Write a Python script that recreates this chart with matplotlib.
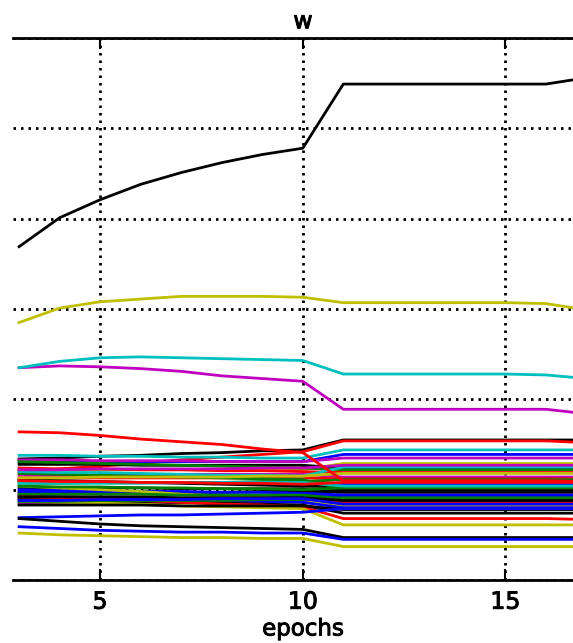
import matplotlib

matplotlib.use("Agg")
import matplotlib.patheffects as pe
import matplotlib.pyplot as plt

# epochs shown in the crop
epochs = list(range(3, 18))

# lines that sit above the main bundle (value per epoch 3..17)
w_black_top = [2.69, 3.01, 3.21, 3.38, 3.51, 3.62, 3.71, 3.78, 4.49, 4.49, 4.49, 4.49, 4.49, 4.49, 4.56]
w_yellow_top = [1.85, 2.01, 2.08, 2.11, 2.14, 2.14, 2.14, 2.13, 2.07, 2.07, 2.07, 2.07, 2.07, 2.06, 1.99]
w_cyan_top = [1.35, 1.42, 1.46, 1.47, 1.46, 1.45, 1.44, 1.43, 1.28, 1.28, 1.28, 1.28, 1.28, 1.27, 1.23]
w_magenta_top = [1.35, 1.37, 1.36, 1.34, 1.31, 1.26, 1.23, 1.20, 0.89, 0.89, 0.89, 0.89, 0.89, 0.89, 0.84]
w_red_top = [0.64, 0.63, 0.60, 0.56, 0.53, 0.50, 0.45, 0.41, 0.10, 0.10, 0.10, 0.10, 0.10, 0.10, 0.09]

# the dense bundle around zero
bundle_colors = ["k", "r", "c", "b", "m", "y", "k", "g", "r", "m", "r", "b", "k", "g", "k", "k", "b",
                 "b", "m", "r", "y", "b", "k", "r", "y", "g", "c", "g", "c", "g", "k", "m", "y",
                 "g", "r", "k", "b"]
bundle_values = [
    [0.34, 0.35, 0.37, 0.38, 0.40, 0.41, 0.43, 0.44, 0.55, 0.55, 0.55, 0.55, 0.55, 0.55, 0.55],
    [0.20, 0.23, 0.26, 0.29, 0.33, 0.36, 0.39, 0.42, 0.54, 0.54, 0.54, 0.54, 0.54, 0.54, 0.52],
    [0.38, 0.38, 0.37, 0.37, 0.36, 0.36, 0.35, 0.35, 0.44, 0.44, 0.44, 0.44, 0.44, 0.44, 0.44],
    [0.31, 0.31, 0.31, 0.31, 0.31, 0.31, 0.31, 0.31, 0.39, 0.39, 0.39, 0.39, 0.39, 0.39, 0.39],
    [0.33, 0.33, 0.32, 0.32, 0.32, 0.31, 0.31, 0.31, 0.35, 0.35, 0.35, 0.35, 0.35, 0.35, 0.35],
    [0.22, 0.22, 0.22, 0.22, 0.22, 0.22, 0.22, 0.22, 0.29, 0.29, 0.29, 0.29, 0.29, 0.29, 0.29],
    [0.28, 0.28, 0.28, 0.27, 0.27, 0.27, 0.27, 0.27, 0.24, 0.24, 0.24, 0.24, 0.24, 0.24, 0.24],
    [0.31, 0.30, 0.29, 0.28, 0.27, 0.26, 0.25, 0.24, 0.22, 0.22, 0.22, 0.22, 0.22, 0.22, 0.22],
    [0.24, 0.23, 0.23, 0.22, 0.22, 0.21, 0.21, 0.20, 0.19, 0.19, 0.19, 0.19, 0.19, 0.19, 0.19],
    [0.16, 0.16, 0.16, 0.16, 0.17, 0.17, 0.17, 0.17, 0.14, 0.14, 0.14, 0.14, 0.14, 0.14, 0.14],
    [0.13, 0.13, 0.13, 0.13, 0.13, 0.13, 0.13, 0.13, 0.12, 0.12, 0.12, 0.12, 0.12, 0.12, 0.12],
    [0.09, 0.09, 0.08, 0.08, 0.08, 0.07, 0.07, 0.07, 0.06, 0.06, 0.06, 0.06, 0.06, 0.06, 0.06],
    [0.11, 0.10, 0.09, 0.08, 0.07, 0.06, 0.05, 0.04, 0.03, 0.03, 0.03, 0.03, 0.03, 0.03, 0.03],
    [0.18, 0.17, 0.16, 0.15, 0.14, 0.13, 0.12, 0.11, 0.01, 0.01, 0.01, 0.01, 0.01, 0.01, 0.01],
    [0.02, 0.02, 0.02, 0.02, 0.01, 0.01, 0.01, 0.01, -0.01, -0.01, -0.01, -0.01, -0.01, -0.01, -0.01],
    [-0.04, -0.04, -0.03, -0.03, -0.03, -0.03, -0.02, -0.02, -0.03, -0.03, -0.03, -0.03, -0.03, -0.03, -0.03],
    [0.00, -0.01, -0.01, -0.02, -0.02, -0.03, -0.03, -0.04, -0.06, -0.06, -0.06, -0.06, -0.06, -0.06, -0.06],
    [-0.02, -0.03, -0.03, -0.04, -0.05, -0.06, -0.06, -0.07, -0.08, -0.08, -0.08, -0.08, -0.08, -0.08, -0.08],
    [-0.16, -0.16, -0.15, -0.15, -0.14, -0.14, -0.13, -0.13, -0.11, -0.11, -0.11, -0.11, -0.11, -0.11, -0.11],
    [-0.09, -0.09, -0.10, -0.10, -0.10, -0.11, -0.11, -0.11, -0.14, -0.14, -0.14, -0.14, -0.14, -0.14, -0.14],
    [0.04, 0.02, 0.00, -0.02, -0.05, -0.07, -0.09, -0.11, -0.18, -0.18, -0.18, -0.18, -0.18, -0.18, -0.18],
    [-0.07, -0.08, -0.09, -0.10, -0.11, -0.12, -0.13, -0.14, -0.20, -0.20, -0.20, -0.20, -0.20, -0.20, -0.20],
    [-0.11, -0.12, -0.13, -0.14, -0.14, -0.15, -0.16, -0.17, -0.26, -0.26, -0.26, -0.26, -0.26, -0.26, -0.26],
    [-0.07, -0.09, -0.10, -0.12, -0.14, -0.16, -0.17, -0.19, -0.32, -0.32, -0.32, -0.32, -0.32, -0.32, -0.33],
    [-0.13, -0.14, -0.15, -0.16, -0.18, -0.19, -0.20, -0.21, -0.39, -0.39, -0.39, -0.39, -0.39, -0.39, -0.39],
    [0.07, 0.07, 0.08, 0.08, 0.08, 0.08, 0.09, 0.09, 0.11, 0.11, 0.11, 0.11, 0.11, 0.11, 0.11],
    [0.20, 0.19, 0.19, 0.18, 0.17, 0.16, 0.16, 0.15, 0.25, 0.25, 0.25, 0.25, 0.25, 0.25, 0.25],
    [0.04, 0.03, 0.03, 0.02, 0.02, 0.01, 0.01, 0.00, 0.02, 0.02, 0.02, 0.02, 0.02, 0.02, 0.02],
    [0.07, 0.07, 0.07, 0.07, 0.08, 0.08, 0.08, 0.08, 0.04, 0.04, 0.04, 0.04, 0.04, 0.04, 0.04],
    [-0.13, -0.13, -0.12, -0.12, -0.12, -0.12, -0.11, -0.11, -0.09, -0.09, -0.09, -0.09, -0.09, -0.09, -0.09],
    [-0.17, -0.17, -0.17, -0.17, -0.18, -0.18, -0.18, -0.18, -0.22, -0.22, -0.22, -0.22, -0.22, -0.22, -0.22],
    [0.22, 0.22, 0.23, 0.23, 0.23, 0.23, 0.24, 0.24, 0.27, 0.27, 0.27, 0.27, 0.27, 0.27, 0.27],
    [0.13, 0.13, 0.14, 0.14, 0.14, 0.14, 0.15, 0.15, 0.18, 0.18, 0.18, 0.18, 0.18, 0.18, 0.18],
    [-0.05, -0.05, -0.05, -0.05, -0.06, -0.06, -0.06, -0.06, -0.10, -0.10, -0.10, -0.10, -0.10, -0.10, -0.10],
    [0.10, 0.09, 0.09, 0.08, 0.08, 0.07, 0.07, 0.06, 0.08, 0.08, 0.08, 0.08, 0.08, 0.08, 0.08],
    [-0.08, -0.08, -0.08, -0.08, -0.09, -0.09, -0.09, -0.09, -0.12, -0.12, -0.12, -0.12, -0.12, -0.12, -0.12],
    [-0.12, -0.12, -0.11, -0.11, -0.11, -0.10, -0.10, -0.10, -0.16, -0.16, -0.16, -0.16, -0.16, -0.16, -0.16],
]

# lines below the bundle
lower_colors = ["b", "k", "b", "y"]
lower_values = [
    [-0.31, -0.30, -0.29, -0.28, -0.28, -0.27, -0.26, -0.25, -0.21, -0.21, -0.21, -0.21, -0.21, -0.21, -0.21],
    [-0.32, -0.35, -0.38, -0.40, -0.41, -0.42, -0.43, -0.44, -0.53, -0.53, -0.53, -0.53, -0.53, -0.53, -0.53],
    [-0.41, -0.43, -0.45, -0.46, -0.47, -0.47, -0.48, -0.48, -0.55, -0.55, -0.55, -0.55, -0.55, -0.55, -0.55],
    [-0.48, -0.50, -0.51, -0.52, -0.53, -0.53, -0.54, -0.54, -0.63, -0.63, -0.63, -0.63, -0.63, -0.63, -0.63],
]

x_ticks = [5, 10, 15]

plt.rcParams["font.family"] = ["DejaVu Sans"]
classic = {"b": (0, 0, 1), "g": (0, 0.5, 0), "r": (1, 0, 0), "c": (0, 0.75, 0.75),
           "m": (0.75, 0, 0.75), "y": (0.75, 0.75, 0), "k": (0, 0, 0)}

fig = plt.figure(figsize=(5.73, 6.43), dpi=100)
fig.patch.set_facecolor("white")
# the original plot is cropped: axes run past the right edge of the picture
ax = fig.add_axes([13 / 573, 63 / 643, 614 / 573, 542 / 643])

lw = 2.0
for vals, col in zip(bundle_values, bundle_colors):
    ax.plot(epochs, vals, color=classic[col], lw=lw)
for vals, col in zip(lower_values, lower_colors):
    ax.plot(epochs, vals, color=classic[col], lw=lw)
ax.plot(epochs, w_red_top, color=classic["r"], lw=lw)
ax.plot(epochs, w_magenta_top, color=classic["m"], lw=lw)
ax.plot(epochs, w_cyan_top, color=classic["c"], lw=lw)
ax.plot(epochs, w_yellow_top, color=classic["y"], lw=lw)
ax.plot(epochs, w_black_top, color=classic["k"], lw=lw)

ax.set_xlim(2.85, 18.0)
ax.set_ylim(-1, 5)
ax.set_xticks(x_ticks)
ax.set_yticks(range(-1, 6))
ax.set_yticklabels([])
ax.grid(True, color="k", linestyle=(0, (0.9, 1.8)), linewidth=2.0)
ax.tick_params(axis="x", direction="in", length=8, width=1.5, top=True, labelsize=17, pad=7)
ax.tick_params(axis="y", length=0)
ax.spines["left"].set_visible(False)
ax.spines["right"].set_visible(False)
for side in ("top", "bottom"):
    ax.spines[side].set_linewidth(2.0)

heavy = [pe.withStroke(linewidth=0.7, foreground="k")]
ax.set_title("w", fontsize=17, pad=7, path_effects=heavy)
ax.title.set_x((303 - 13) / 614)
ax.set_xlabel("epochs", fontsize=16.5, path_effects=heavy)
ax.xaxis.set_label_coords((303 - 13) / 614, -0.069)
for lab in ax.get_xticklabels():
    lab.set_path_effects(heavy)

fig.savefig("out.png", dpi=100)
